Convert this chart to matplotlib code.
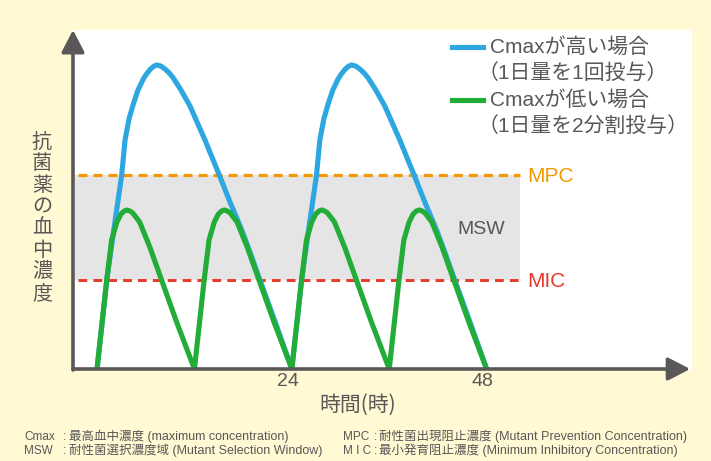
import matplotlib
matplotlib.use('Agg')
import matplotlib.pyplot as plt
from matplotlib.lines import Line2D
import matplotlib.transforms as mtransforms

# ---------------- data (hours, relative concentration) ----------------
blue_t = [0.0, 1.2, 2.1, 3.04, 3.45, 3.94, 4.47, 5.05, 5.7, 6.1, 6.53, 6.95, 7.35, 7.85, 8.37,
          8.9, 9.4, 10.34, 11.45, 13.3, 15.06, 16.38, 17.83, 18.84, 20.07, 22.04, 24.0,
          25.2, 26.1, 27.04, 27.45, 27.94, 28.47, 29.05, 29.7, 30.1, 30.53, 30.95, 31.35, 31.85,
          32.37, 32.9, 33.4, 34.34, 35.45, 37.3, 39.06, 40.38, 41.83, 42.84, 44.07, 46.04, 48.0]
blue_c = [0.0, 0.89, 1.41, 1.94, 2.29, 2.5, 2.65, 2.79, 2.9, 2.95, 2.995, 3.025, 3.04, 3.03, 3.0,
          2.96, 2.91, 2.79, 2.63, 2.29, 1.94, 1.67, 1.39, 1.17, 0.89, 0.45, 0.0,
          0.89, 1.41, 1.94, 2.29, 2.5, 2.65, 2.79, 2.9, 2.95, 2.995, 3.025, 3.04, 3.03,
          3.0, 2.96, 2.91, 2.79, 2.63, 2.29, 1.94, 1.67, 1.39, 1.17, 0.89, 0.45, 0.0]

green_t = [0.0, 1.2, 1.8, 2.45, 2.95, 3.35, 3.7, 4.05, 4.4, 5.25, 6.5, 7.95, 9.85, 12.0,
           13.2, 13.8, 14.45, 14.95, 15.35, 15.7, 16.05, 16.4, 17.25, 18.5, 19.95, 21.85, 24.0,
           25.2, 25.8, 26.45, 26.95, 27.35, 27.7, 28.05, 28.4, 29.25, 30.5, 31.95, 33.85, 36.0,
           37.2, 37.8, 38.45, 38.95, 39.35, 39.7, 40.05, 40.4, 41.25, 42.5, 43.95, 45.85, 48.0]
green_c = [0.0, 0.89, 1.29, 1.47, 1.55, 1.58, 1.59, 1.58, 1.56, 1.47, 1.22, 0.89, 0.46, 0.0,
           0.89, 1.29, 1.47, 1.55, 1.58, 1.59, 1.58, 1.56, 1.47, 1.22, 0.89, 0.46, 0.0,
           0.89, 1.29, 1.47, 1.55, 1.58, 1.59, 1.58, 1.56, 1.47, 1.22, 0.89, 0.46, 0.0,
           0.89, 1.29, 1.47, 1.55, 1.58, 1.59, 1.58, 1.56, 1.47, 1.22, 0.89, 0.46, 0.0]

MIC = 0.89
MPC = 1.94
x_ticks = [24, 48]
x_tick_labels = ['24', '48']

legend_labels = [('Cmaxが高い場合', '（1日量を1回投与）'),
                 ('Cmaxが低い場合', '（1日量を2分割投与）')]
y_label = '抗菌薬の血中濃度'
x_label = '時間(時)'
notes_left = [('Cmax', '最高血中濃度 (maximum concentration)'),
              ('MSW', '耐性菌選択濃度域 (Mutant Selection Window)')]
notes_right = [('MPC', '耐性菌出現阻止濃度 (Mutant Prevention Concentration)'),
               ('M I C', '最小発育阻止濃度 (Minimum Inhibitory Concentration)')]

# ---------------- style ----------------
BG = '#FFF9D4'
AXC = '#595757'
TXT = '#595757'
BLUE = '#2EA7E0'
GREEN = '#22AC38'
ORANGE = '#F39800'
RED = '#E83828'
BAND = '#E5E5E5'
FAM = ['Liberation Sans', 'Noto Sans CJK JP']
CJK = ['Noto Sans CJK JP', 'Liberation Sans']

W, H = 711, 461
fig = plt.figure(figsize=(W / 100, H / 100), dpi=100)
fig.patch.set_facecolor(BG)


def fx(px):
    return px / W


def fy(py):
    return 1 - py / H


ax = fig.add_axes([fx(73), fy(370), (692 - 73) / W, (370 - 30) / H])
ax.set_facecolor('white')
for s in ax.spines.values():
    s.set_visible(False)
ax.set_xlim(-2.96, 73.3)
ax.set_ylim(-0.01, 3.39)
ax.set_yticks([])
ax.set_xticks(x_ticks)
ax.set_xticklabels(x_tick_labels, family=FAM, fontsize=14, color=TXT)
ax.tick_params(axis='x', length=0, pad=2)
off = mtransforms.ScaledTranslation(-4 / 100, 0, fig.dpi_scale_trans)
for lab in ax.get_xticklabels():
    lab.set_transform(lab.get_transform() + off)

band_x0, band_x1 = -2.7, 52.1
ax.fill_between([band_x0, band_x1], MIC, MPC, color=BAND, lw=0, zorder=1)
ax.hlines(MPC, -2.3, band_x1, colors=ORANGE, lw=2.3, linestyles=(0, (2.8, 1.9)), zorder=2)
ax.hlines(MIC, -2.3, band_x1, colors=RED, lw=2.1, linestyles=(0, (3.0, 2.1)), zorder=2)

ax.plot(blue_t, blue_c, color=BLUE, lw=3.7, solid_joinstyle='round',
        solid_capstyle='round', zorder=4)
ax.plot(green_t, green_c, color=GREEN, lw=3.7, solid_joinstyle='round',
        solid_capstyle='round', zorder=5)

ap = dict(arrowstyle='-|>,head_length=1.35,head_width=0.7', mutation_scale=10,
          lw=2.6, color=AXC, shrinkA=0, shrinkB=0)
ax.annotate('', xy=(0, 1.0), xycoords='axes fraction', xytext=(0, 0),
            textcoords='axes fraction', arrowprops=ap, annotation_clip=False, zorder=7)
ax.annotate('', xy=(0.997, 0), xycoords=ax.get_yaxis_transform(), xytext=(0, 0),
            textcoords=ax.get_yaxis_transform(), arrowprops=ap,
            annotation_clip=False, zorder=7)

# threshold labels
fig.text(fx(527), fy(176), 'MPC', color=ORANGE, fontsize=15, family=FAM, ha='left', va='center')
fig.text(fx(527), fy(281), 'MIC', color=RED, fontsize=15, family=FAM, ha='left', va='center')
fig.text(fx(457), fy(229), 'MSW', color=TXT, fontsize=14, family=FAM, ha='left', va='center')

# legend
for (l1, l2), col, yy in zip(legend_labels, [BLUE, GREEN], [47, 100]):
    fig.add_artist(Line2D([fx(452), fx(483)], [fy(yy), fy(yy)], color=col, lw=3.7,
                          transform=fig.transFigure))
    fig.text(fx(490), fy(yy), l1, color=TXT, fontsize=15, family=FAM, ha='left', va='center')
    fig.text(fx(478), fy(yy + 26), l2, color=TXT, fontsize=15, family=FAM, ha='left', va='center')

# y label stacked
for i, ch in enumerate(y_label):
    fig.text(fx(42), fy(142 + i * 21.6), ch, color=TXT, fontsize=14.5, family=CJK,
             ha='center', va='center')

fig.text(fx(358), fy(405), x_label, color=TXT, fontsize=15, family=CJK, ha='center', va='center')

# notes (baseline aligned)
LAB_FS, REST_FS = 8.5, 9
for (lab, rest), yb in zip(notes_left, [440, 454]):
    fig.text(fx(24), fy(yb), lab, color=TXT, fontsize=LAB_FS, family=FAM, ha='left', va='baseline')
    fig.text(fx(63), fy(yb), ':', color=TXT, fontsize=LAB_FS, family=FAM, ha='left', va='baseline')
    fig.text(fx(69), fy(yb), rest, color=TXT, fontsize=REST_FS, family=FAM, ha='left', va='baseline')
for (lab, rest), yb in zip(notes_right, [440, 454]):
    fig.text(fx(343), fy(yb), lab, color=TXT, fontsize=LAB_FS, family=FAM, ha='left', va='baseline')
    fig.text(fx(373.5), fy(yb), ':', color=TXT, fontsize=LAB_FS, family=FAM, ha='left', va='baseline')
    fig.text(fx(379), fy(yb), rest, color=TXT, fontsize=REST_FS, family=FAM, ha='left', va='baseline')

fig.savefig('out.png', dpi=100, facecolor=BG)
